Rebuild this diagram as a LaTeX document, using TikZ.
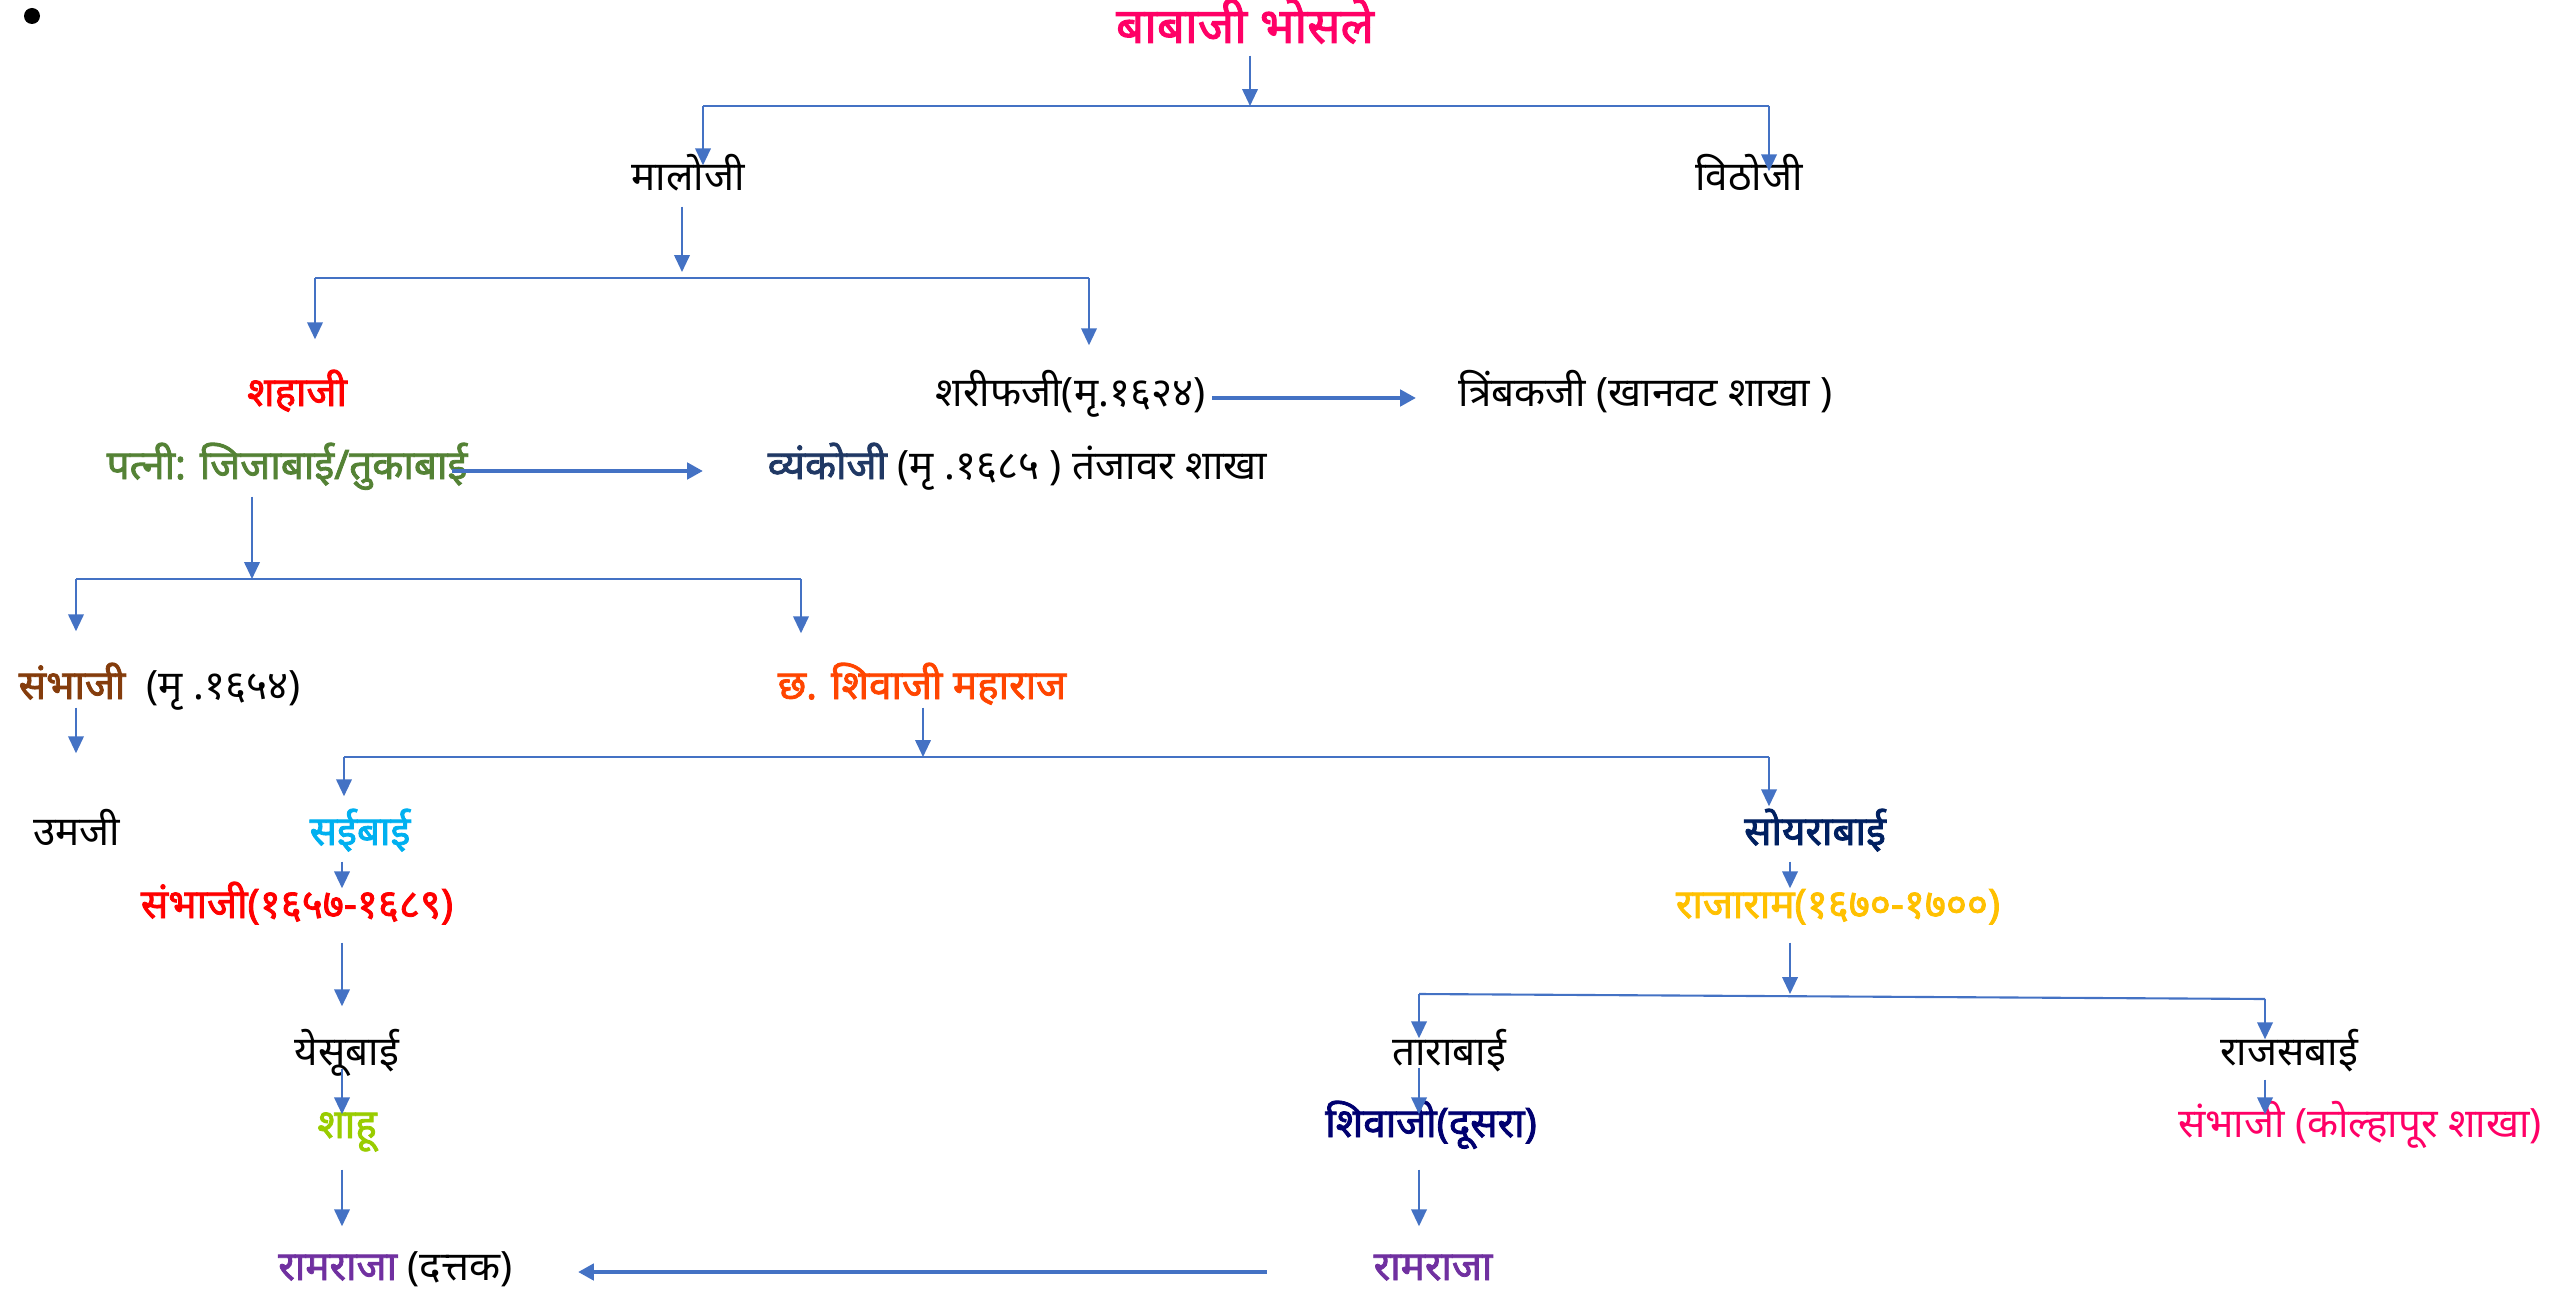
\documentclass[tikz,border=0pt]{standalone}
\usepackage{fontspec}
\setmainfont{Noto Sans}[Script=Devanagari,BoldFont=Noto Sans,BoldFeatures={FakeBold=2}]
\usetikzlibrary{arrows.meta,positioning,calc}
\definecolor{linkblue}{HTML}{4472C4}
\definecolor{babapink}{HTML}{FF0066}
\definecolor{patnigreen}{HTML}{548235}
\definecolor{vyankoblue}{HTML}{203864}
\definecolor{sambhajibrown}{HTML}{843C0C}
\definecolor{shivajiorange}{HTML}{FF4500}
\definecolor{saicyan}{HTML}{00B0F0}
\definecolor{soyranavy}{HTML}{002060}
\definecolor{rajaramgold}{HTML}{FFC000}
\definecolor{shahulime}{HTML}{99CC00}
\definecolor{shivajinavy}{HTML}{000070}
\definecolor{ramrajapurple}{HTML}{7030A0}

\begin{document}
\begin{tikzpicture}[x=0.01cm,y=-0.01cm,
   member/.style={anchor=base,inner sep=0pt,text height=0.24cm,text depth=0.08cm,font=\fontsize{11.5}{13}\selectfont},
   heir/.style={member,font=\bfseries\fontsize{11.5}{13}\selectfont},
   bar/.style={draw=linkblue,line width=0.6pt},
   link/.style={bar,-{Triangle[length=4.8pt,width=4.4pt]}},
   biglink/.style={draw=linkblue,line width=1.2pt,-{Triangle[length=4.5pt,width=4.6pt]}}]
      \useasboundingbox (0,0) rectangle (2552,1291);
      \fill (32,16) circle (8);
      \node [heir,babapink,font=\bfseries\fontsize{14}{16}\selectfont] (baba) at (1245,43) {बाबाजी भोसले};
      \node [member] (malo) at (688,190) {मालोजी};
      \node [member] (vitho) at (1749,190) {विठोजी};
      \node [heir,red] (shahaji) at (297,406) {शहाजी};
      \node [member,anchor=base east] (sharif) at (1206,406) {शरीफजी(मृ.१६२४)};
      \node [member,anchor=base west] (trimbak) at (1458,406) {त्रिंबकजी (खानवट शाखा )};
      \node [heir,patnigreen,anchor=base east] (patni) at (468,479) {पत्नी: जिजाबाई/तुकाबाई};
      \node [member,anchor=base west] (vyanko) at (767,479) {{\bfseries\color{vyankoblue}व्यंकोजी} (मृ .१६८५ ) तंजावर शाखा};
      \node [member,anchor=base west] (sambhajiA) at (18,699) {{\bfseries\color{sambhajibrown}संभाजी}\ \ (मृ .१६५४)};
      \node [heir,shivajiorange] (shivaji) at (922,699) {छ. शिवाजी महाराज};
      \node [member] (umaji) at (77,845) {उमजी};
      \node [heir,saicyan] (saibai) at (360,845) {सईबाई};
      \node [heir,soyranavy] (soyra) at (1815,845) {सोयराबाई};
      \node [heir,red] (sambhajiB) at (297,918) {संभाजी(१६५७-१६८९)};
      \node [heir,rajaramgold] (rajaram) at (1838,918) {राजाराम(१६७०-१७००)};
      \node [member] (yesu) at (347,1065) {येसूबाई};
      \node [member] (tara) at (1449,1065) {ताराबाई};
      \node [member] (rajas) at (2289,1065) {राजसबाई};
      \node [heir,shahulime] (shahu) at (347,1138) {शाहू};
      \node [heir,shivajinavy] (shivajiB) at (1431,1137) {शिवाजी(दूसरा)};
      \node [member,babapink] (sambhajiC) at (2360,1137) {संभाजी (कोल्हापूर शाखा)};
      \node [member,anchor=base east] (ramrajaA) at (513,1280) {{\bfseries\color{ramrajapurple}रामराजा} (दत्तक)};
      \node [heir,ramrajapurple,anchor=base west] (ramrajaB) at (1373,1280) {रामराजा};
      \coordinate (f1) at (1250,106);
      \coordinate (f1l) at (703,106);
      \coordinate (f1r) at (1769,106);
      \coordinate (f2) at (682,278);
      \coordinate (f2l) at (315,278);
      \coordinate (f2r) at (1089,278);
      \coordinate (f3) at (252,579);
      \coordinate (f3l) at (76,579);
      \coordinate (f3r) at (801,579);
      \coordinate (f4) at (923,757);
      \coordinate (f4l) at (344,757);
      \coordinate (f4r) at (1769,757);
      \coordinate (f5l) at (1419,994);
      \coordinate (f5r) at (2265,999);
      \coordinate (colS) at (342,0);
      \coordinate (colR) at (1790,0);
      \draw[link,shorten <=0.04cm] (baba.south -| f1) -- (f1);
      \draw[bar] (f1l) -- (f1r);
      \draw[link] (f1l) -- (f1l |- malo.north);
      \draw[link,shorten >=-0.06cm] (f1r) -- (f1r |- vitho.north);
      \draw[link,shorten <=0.08cm,shorten >=0.06cm] (malo.south -| f2) -- (f2);
      \draw[bar] (f2l) -- (f2r);
      \draw[link,shorten >=0.42cm] (f2l) -- (f2l |- shahaji.north);
      \draw[link,shorten >=0.36cm] (f2r) -- (f2r |- sharif.north);
      \draw[biglink,shorten <=0.06cm,shorten >=0.42cm] (sharif.east) -- (trimbak.west);
      \draw[biglink,shorten <=-0.16cm,shorten >=0.64cm] (patni.east) -- (vyanko.west);
      \draw[link,shorten <=0.09cm] (patni.south -| f3) -- (f3);
      \draw[bar] (f3l) -- (f3r);
      \draw[link,shorten >=0.43cm] (f3l) -- (f3l |- sambhajiA.north);
      \draw[link,shorten >=0.41cm] (f3r) -- (f3r |- shivaji.north);
      \draw[link,shorten >=0.67cm] (sambhajiA.south -| f3l) -- (f3l |- umaji.north);
      \draw[link] (shivaji.south -| f4) -- (f4);
      \draw[bar] (f4l) -- (f4r);
      \draw[link,shorten >=0.24cm] (f4l) -- (f4l |- saibai.north);
      \draw[link,shorten >=0.14cm] (f4r) -- (f4r |- soyra.north);
      \draw[link,shorten <=0.08cm,shorten >=0.05cm] (saibai.south -| colS) -- (colS |- sambhajiB.north);
      \draw[link,shorten <=0.08cm,shorten >=0.05cm] (soyra.south -| colR) -- (colR |- rajaram.north);
      \draw[link,shorten <=0.16cm,shorten >=0.34cm] (sambhajiB.south -| colS) -- (colS |- yesu.north);
      \draw[link,shorten <=0.16cm] (rajaram.south -| colR) -- (colR |- f5l);
      \draw[bar] (f5l) -- (f5r);
      \draw[link,shorten >=0.02cm] (f5l) -- (f5l |- tara.north);
      \draw[link,shorten >=0.01cm] (f5r) -- (f5r |- rajas.north);
      \draw[link,shorten <=-0.05cm,shorten >=-0.01cm] (yesu.south -| colS) -- (colS |- shahu.north);
      \draw[link,shorten <=-0.06cm,shorten >=-0.02cm] (tara.south -| f5l) -- (f5l |- shivajiB.north);
      \draw[link,shorten <=0.06cm,shorten >=-0.02cm] (rajas.south -| f5r) -- (f5r |- sambhajiC.north);
      \draw[link,shorten <=0.23cm,shorten >=0.29cm] (shahu.south -| colS) -- (colS |- ramrajaA.north);
      \draw[link,shorten <=0.24cm,shorten >=0.29cm] (shivajiB.south -| f5l) -- (f5l |- ramrajaB.north);
      \draw[biglink,shorten <=1.06cm,shorten >=0.65cm] (ramrajaB.west) -- (ramrajaA.east);
   \end{tikzpicture}
\end{document}
